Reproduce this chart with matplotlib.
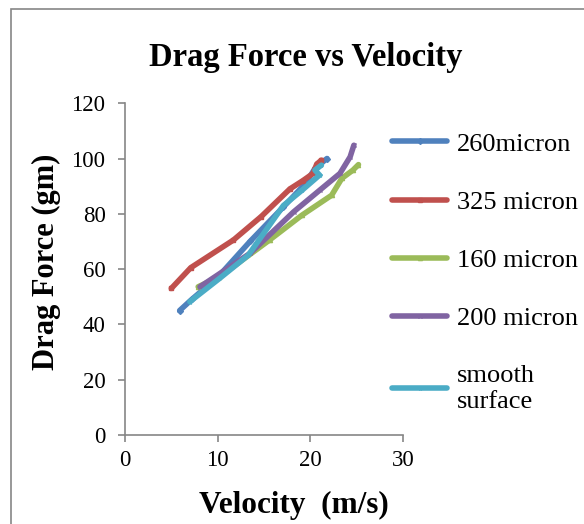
import matplotlib.pyplot as plt
from matplotlib.patches import Rectangle

plt.rcParams['font.family'] = ['Liberation Serif', 'DejaVu Serif']

# data (velocity m/s, drag force gm)
v_260 = [5.9, 7.2, 10.0, 13.5, 17.1, 19.5, 20.5, 21.8]
f_260 = [45, 49, 57, 70, 82.5, 91, 96.4, 100]

v_325 = [5.0, 7.1, 11.7, 14.7, 17.8, 19.2, 20.3, 20.7, 21.2]
f_325 = [53, 60.5, 70.5, 79, 89, 92, 94.6, 98, 99.4]

v_160 = [7.9, 10.2, 15.6, 19.1, 22.3, 23.4, 24.6, 25.2]
f_160 = [53.6, 57.2, 70.5, 79.5, 86.7, 92.8, 95.8, 97.8]

v_200 = [8.1, 13.5, 18.2, 21.0, 23.2, 24.3, 24.7]
f_200 = [53.6, 65.7, 80.7, 88.5, 94.6, 100.6, 104.8]

v_smooth = [7.0, 10.2, 13.3, 17.1, 19.1, 21.0, 20.5, 21.2]
f_smooth = [48.2, 56.6, 65, 83, 88.5, 94, 95.8, 97.6]

series = [
    ("260micron", v_260, f_260, "#4F81BD", "D"),
    ("325 micron", v_325, f_325, "#C0504D", "s"),
    ("160 micron", v_160, f_160, "#9BBB59", "^"),
    ("200 micron", v_200, f_200, "#8064A2", "x"),
    ("smooth\nsurface", v_smooth, f_smooth, "#4BACC6", "*"),
]

fig = plt.figure(figsize=(5.84, 5.24), dpi=100)
ax = fig.add_axes([0.214, 0.170, 0.476, 0.633])

for lab, x, y, c, m in series:
    ax.plot(x, y, color=c, lw=4, marker=m, ms=3, label=lab,
            solid_capstyle='round', solid_joinstyle='round')

ax.set_xlim(0, 30)
ax.set_ylim(0, 120)
ax.set_xticks([0, 10, 20, 30])
ax.set_yticks(range(0, 121, 20))

gray = "#868686"
for s in ["top", "right"]:
    ax.spines[s].set_visible(False)
for s in ["left", "bottom"]:
    ax.spines[s].set_color(gray)
    ax.spines[s].set_linewidth(1.2)
ax.tick_params(color=gray, width=1.2, length=5, labelsize=16.5, pad=6)
ax.tick_params(axis='y', pad=9)

fig.text(0.524, 0.891, "Drag Force vs Velocity", fontsize=23.5, fontweight='bold',
         ha='center', va='center')
fig.text(0.503, 0.036, "Velocity  (m/s)", fontsize=22.5, fontweight='bold',
         ha='center', va='center')
fig.text(0.079, 0.5, "Drag Force (gm)", fontsize=22, fontweight='bold',
         ha='center', va='center', rotation=90)

fig.legend(loc='upper left', bbox_to_anchor=(0.671, 0.748), frameon=False,
           fontsize=19, handlelength=2.1, handletextpad=0.38,
           labelspacing=1.32, borderpad=0, borderaxespad=0)

# chart area border (cut off at right and bottom)
fig.patches.append(Rectangle((11 / 584, -0.1), 1.2, 1.1 - 9 / 524,
                             transform=fig.transFigure, fill=False,
                             edgecolor=gray, lw=1.2))

fig.savefig("out.png", dpi=100)
